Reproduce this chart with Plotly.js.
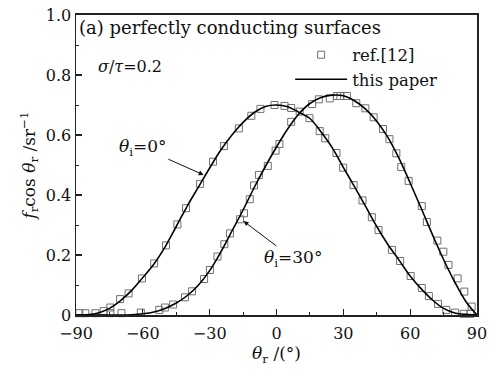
<!DOCTYPE html>
<html>
<head>
<meta charset="utf-8">
<script src="https://cdn.plot.ly/plotly-3.0.1.min.js"></script>
<style>html,body{margin:0;padding:0;background:#fff;}#chart{width:491px;height:373px;}</style>
</head>
<body>
<div id="chart"></div>
<script>
// Reference data (squares), theta_i = 0°
const refA_theta = [-88.5, -85.8, -81.3, -77.6, -74.6, -70.2, -66.4, -60.4, -54.9, -49.6, -44.5, -40.6, -34.3, -28.5, -23.6, -16.9, -11.3, -7.2, -0.9, 3.6, 6.6, 10.4, 14.8, 19.4, 21.9, 26.9, 29.9, 34.6, 38.6, 42.8, 45.8, 51.8, 55.5, 60.2, 65.2, 68.4, 72.5, 76.2, 80.1, 84.0, 87.0];
const refA_val   = [0.006, 0.006, 0.006, 0.013, 0.025, 0.053, 0.072, 0.122, 0.172, 0.232, 0.302, 0.356, 0.437, 0.511, 0.563, 0.622, 0.664, 0.687, 0.700, 0.697, 0.690, 0.678, 0.656, 0.613, 0.589, 0.540, 0.491, 0.433, 0.382, 0.326, 0.283, 0.217, 0.180, 0.130, 0.090, 0.063, 0.037, 0.017, 0.008, 0.004, 0.004];
// Reference data (squares), theta_i = 30°
const refB_theta = [-74.6, -69.6, -60.9, -52.6, -50.1, -46.4, -41.1, -37.9, -32.5, -29.9, -26.5, -23.4, -20.9, -16.4, -14.6, -12.0, -10.1, -7.9, -3.9, -0.4, 1.3, 6.6, 16.0, 19.0, 23.9, 27.2, 28.7, 31.6, 35.8, 39.9, 43.6, 47.8, 50.7, 53.8, 56.0, 59.3, 65.2, 67.5, 72.2, 74.9, 77.2, 81.3, 84.3, 87.6];
const refB_val   = [0.006, 0.006, 0.008, 0.017, 0.025, 0.035, 0.059, 0.079, 0.120, 0.150, 0.195, 0.236, 0.272, 0.319, 0.339, 0.386, 0.432, 0.467, 0.497, 0.548, 0.570, 0.644, 0.703, 0.719, 0.722, 0.730, 0.730, 0.730, 0.706, 0.689, 0.659, 0.620, 0.586, 0.539, 0.493, 0.447, 0.363, 0.310, 0.248, 0.211, 0.167, 0.122, 0.078, 0.028];
// This paper (lines)
const line_theta = [-90, -85, -80, -75, -70, -65, -60, -55, -50, -45, -40, -35, -30, -25, -20, -15, -10, -5, 0, 5, 10, 15, 20, 25, 30, 35, 40, 45, 50, 55, 60, 65, 70, 75, 80, 85, 90];
const lineA_val  = [0, 0.001, 0.007, 0.022, 0.048, 0.082, 0.125, 0.170, 0.227, 0.295, 0.364, 0.427, 0.490, 0.550, 0.600, 0.642, 0.675, 0.695, 0.700, 0.694, 0.676, 0.655, 0.610, 0.558, 0.492, 0.428, 0.362, 0.295, 0.235, 0.183, 0.130, 0.087, 0.050, 0.022, 0.007, 0.002, 0];
const lineB_val  = [0, 0, 0, 0, 0, 0.001, 0.004, 0.010, 0.022, 0.040, 0.065, 0.100, 0.148, 0.210, 0.280, 0.350, 0.425, 0.495, 0.560, 0.620, 0.670, 0.705, 0.725, 0.733, 0.731, 0.714, 0.686, 0.646, 0.592, 0.522, 0.440, 0.355, 0.268, 0.185, 0.110, 0.045, 0];

const FONT = 'DejaVu Serif, Liberation Serif, serif';
const mk = {symbol: 'square-open', size: 7, color: '#707070', line: {width: 1, color: '#707070'}};

const traces = [
  {x: refA_theta, y: refA_val, mode: 'markers', marker: mk, name: 'ref.[12]', legendgroup: 'a', cliponaxis: false},
  {x: refB_theta, y: refB_val, mode: 'markers', marker: mk, name: 'ref.[12]', showlegend: false, cliponaxis: false},
  {x: line_theta, y: lineA_val, mode: 'lines', line: {color: '#000', width: 1.6, shape: 'spline'}, name: 'this paper', legendgroup: 'b'},
  {x: line_theta, y: lineB_val, mode: 'lines', line: {color: '#000', width: 1.6, shape: 'spline'}, name: 'this paper', showlegend: false}
];

const layout = {
  width: 491, height: 373,
  margin: {l: 76, r: 14, t: 15, b: 58},
  paper_bgcolor: '#fff', plot_bgcolor: '#fff',
  font: {family: FONT, size: 16, color: '#111'},
  showlegend: true,
  legend: {x: 0.534, xanchor: 'left', y: 0.925, yanchor: 'top', bgcolor: 'rgba(0,0,0,0)', font: {family: FONT, size: 16.5, color: '#111'}, tracegroupgap: 0, itemwidth: 52},
  xaxis: {
    range: [-90, 90], tickvals: [-90, -60, -30, 0, 30, 60, 90], ticktext: ['−90', '−60', '−30', '0', '30', '60', '90'],
    ticks: 'inside', ticklen: 6, tickwidth: 1.2, tickcolor: '#222', ticklabelstandoff: 3,
    minor: {dtick: 15, tick0: -90, ticks: 'inside', ticklen: 3, tickwidth: 1, tickcolor: '#222'},
    showline: true, linecolor: '#222', linewidth: 2, mirror: true, showgrid: false, zeroline: false,
    tickfont: {family: FONT, size: 16, color: '#111'},
    title: {text: '<i>θ</i><sub>r</sub> /(°)', font: {family: FONT, size: 17, color: '#111'}, standoff: 4}
  },
  yaxis: {
    range: [0, 1.0], tickvals: [0, 0.2, 0.4, 0.6, 0.8, 1.0], ticktext: ['0', '0.2', '0.4', '0.6', '0.8', '1.0'],
    ticks: 'inside', ticklen: 6, tickwidth: 1.2, tickcolor: '#222',
    minor: {dtick: 0.1, tick0: 0, ticks: 'inside', ticklen: 3, tickwidth: 1, tickcolor: '#222'},
    showline: true, linecolor: '#222', linewidth: 1.5, mirror: true, showgrid: false, zeroline: false,
    tickfont: {family: FONT, size: 16, color: '#111'},
    title: {text: '<i>f</i><sub>r</sub>cos <i>θ</i><sub>r</sub> /sr<sup>−1</sup>', font: {family: FONT, size: 17, color: '#111'}, standoff: 6}
  },
  annotations: [
    {xref: 'paper', yref: 'paper', x: 0.003, y: 1.0, xanchor: 'left', yanchor: 'top', text: '(a) perfectly conducting surfaces', showarrow: false, font: {family: FONT, size: 18, color: '#111'}},
    {xref: 'paper', yref: 'paper', x: 0.05, y: 0.83, xanchor: 'left', yanchor: 'middle', text: '<i>σ</i>/<i>τ</i>=0.2', showarrow: false, font: {family: FONT, size: 16, color: '#111'}},
    {xref: 'x', yref: 'y', x: -32.7, y: 0.467, axref: 'x', ayref: 'y', ax: -60, ay: 0.557, text: '<i>θ</i><sub>i</sub>=0°', showarrow: true, arrowhead: 2, arrowsize: 1, arrowwidth: 1, arrowcolor: '#111', font: {family: FONT, size: 17, color: '#111'}},
    {xref: 'x', yref: 'y', x: -14.8, y: 0.313, axref: 'x', ayref: 'y', ax: 7.6, ay: 0.187, text: '<i>θ</i><sub>i</sub>=30°', showarrow: true, arrowhead: 2, arrowsize: 1, arrowwidth: 1, arrowcolor: '#111', font: {family: FONT, size: 17, color: '#111'}}
  ]
};

Plotly.newPlot('chart', traces, layout, {displayModeBar: false, staticPlot: true});
</script>
</body>
</html>
